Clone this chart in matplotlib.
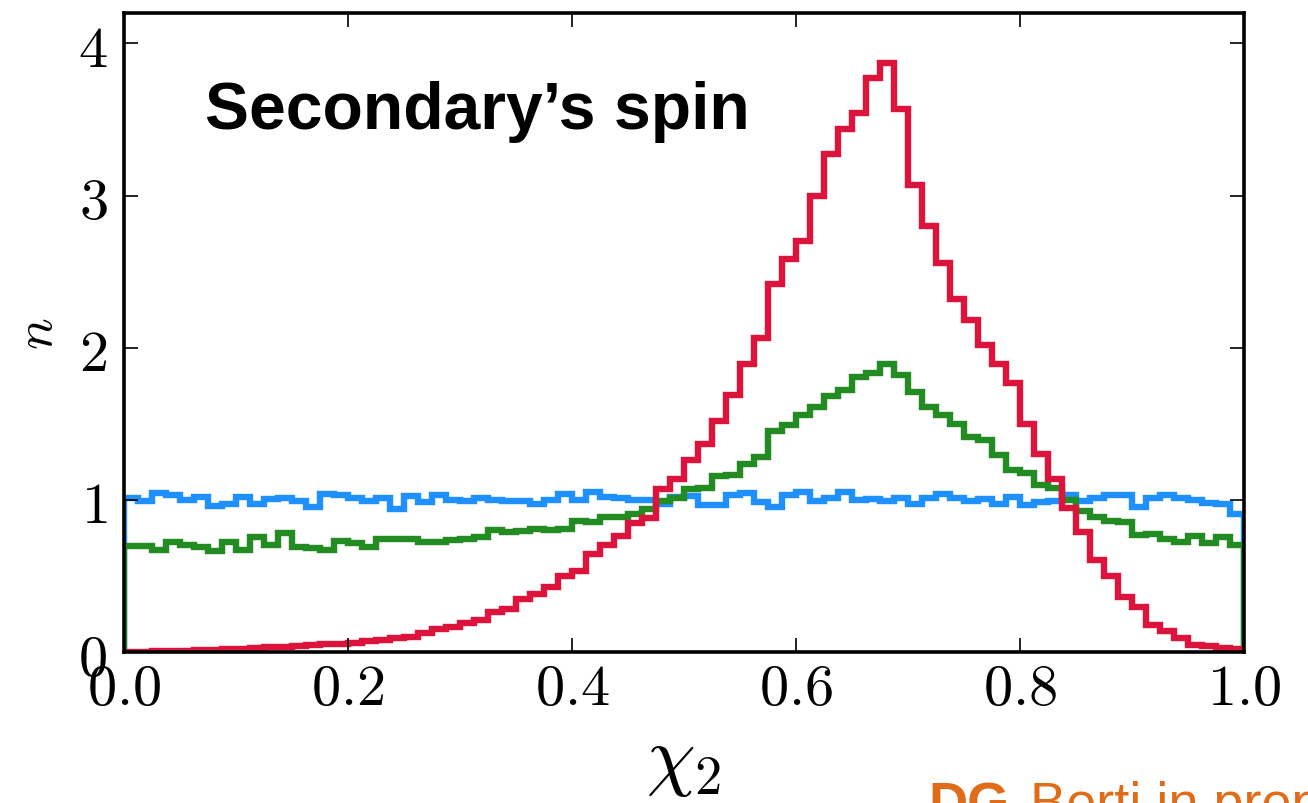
import numpy as np
import matplotlib
matplotlib.use("Agg")
import matplotlib.pyplot as plt

plt.rcParams['mathtext.fontset'] = 'cm'

# 80 equal bins on [0, 1], heights
n_bins = 80
edges = np.linspace(0.0, 1.0, n_bins + 1)

blue = [1.01, 0.99, 1.045, 1.03, 1.0, 1.02, 0.96, 0.97, 1.02, 0.975,
        1.005, 1.015, 0.995, 0.95, 1.04, 1.03, 1.01, 0.995, 1.015, 0.94,
        1.025, 0.985, 1.03, 1.0, 0.995, 1.01, 1.0, 0.99, 0.99, 0.975,
        1.0, 1.04, 1.0, 1.05, 1.02, 1.01, 1.0, 1.0, 0.97, 1.02,
        1.025, 0.965, 0.965, 1.035, 1.045, 0.985, 0.95, 1.03, 1.05, 0.99,
        1.015, 1.05, 1.0, 1.005, 0.99, 1.01, 0.975, 1.015, 1.04, 1.015,
        0.995, 1.005, 0.97, 1.02, 0.965, 0.985, 0.995, 1.035, 0.99, 1.01,
        1.035, 1.03, 0.953, 1.015, 1.035, 1.015, 1.0, 0.978, 0.972, 0.91]

green = [0.70, 0.70, 0.67, 0.72, 0.705, 0.69, 0.665, 0.72, 0.67, 0.755,
         0.705, 0.78, 0.69, 0.685, 0.67, 0.73, 0.715, 0.69, 0.745, 0.745,
         0.74, 0.72, 0.72, 0.735, 0.745, 0.755, 0.80, 0.79, 0.795, 0.81,
         0.805, 0.81, 0.86, 0.855, 0.885, 0.89, 0.91, 0.94, 0.995, 1.01,
         1.07, 1.075, 1.16, 1.165, 1.235, 1.28, 1.45, 1.49, 1.56, 1.61,
         1.68, 1.725, 1.81, 1.835, 1.895, 1.82, 1.71, 1.61, 1.555, 1.50,
         1.41, 1.395, 1.295, 1.195, 1.175, 1.095, 1.075, 1.0, 0.93, 0.89,
         0.86, 0.855, 0.77, 0.778, 0.745, 0.725, 0.76, 0.715, 0.755, 0.703]

red = [0.002, 0.003, 0.004, 0.006, 0.008, 0.011, 0.014, 0.017, 0.02, 0.025,
       0.03, 0.035, 0.04, 0.045, 0.05, 0.055, 0.06, 0.07, 0.08, 0.09,
       0.10, 0.124, 0.15, 0.165, 0.19, 0.21, 0.266, 0.285, 0.35, 0.378,
       0.43, 0.497, 0.535, 0.645, 0.705, 0.76, 0.85, 0.878, 1.07, 1.14,
       1.26, 1.366, 1.52, 1.69, 1.89, 2.065, 2.42, 2.58, 2.70, 3.0,
       3.27, 3.44, 3.54, 3.77, 3.87, 3.57, 3.07, 2.80, 2.56, 2.32,
       2.18, 2.02, 1.89, 1.77, 1.50, 1.30, 1.14, 0.945, 0.79, 0.605,
       0.50, 0.364, 0.295, 0.18, 0.135, 0.09, 0.045, 0.04, 0.028, 0.018]

xticks = [0.0, 0.2, 0.4, 0.6, 0.8, 1.0]
yticks = [0, 1, 2, 3, 4]

fig = plt.figure(figsize=(13.08, 8.04), dpi=100)
ax = fig.add_axes([0.0948, 0.1878, 0.8563, 0.7948])

for vals, col in [(blue, '#1E90FF'), (green, '#228B22'), (red, '#DC143C')]:
    ax.stairs(vals, edges, baseline=0, fill=False, color=col, lw=4.6)

ax.set_xlim(0, 1)
ax.set_ylim(0, 4.2)
ax.set_xticks(xticks)
ax.set_xticklabels(['$%.1f$' % t for t in xticks])
ax.set_yticks(yticks)
ax.set_yticklabels(['$%d$' % t for t in yticks])
ax.tick_params(direction='in', length=10, width=1.2, labelsize=42,
               top=True, right=True)
ax.tick_params(axis='x', pad=5)
ax.tick_params(axis='y', pad=12)
for s in ax.spines.values():
    s.set_linewidth(2.6)

ax.set_xlabel(r'$\chi_2$', fontsize=56, labelpad=4)
ax.set_ylabel(r'$n$', fontsize=38, labelpad=11)

ax.text(0.072, 0.82, u'Secondary\u2019s spin', transform=ax.transAxes,
        fontsize=47.5, fontweight='bold', family='Liberation Sans',
        va='baseline', ha='left')

fig.text(928 / 1308, -0.02, 'DG', fontsize=39, fontweight='bold',
         family='Liberation Sans', color='#E06C1A', va='baseline')
fig.text(1030 / 1308, -0.02, 'Berti in prep.', fontsize=39,
         family='Liberation Sans', color='#E06C1A', va='baseline')

fig.savefig('out.png', dpi=100)
